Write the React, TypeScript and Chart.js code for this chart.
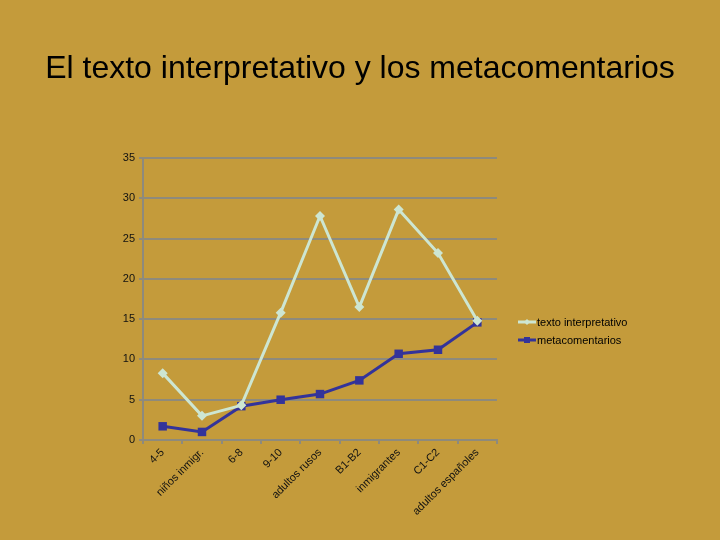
import React, { useEffect, useRef } from "react";
import { Chart, registerables } from "chart.js";

Chart.register(...registerables);

const categories = [
  "4-5",
  "niños inmigr.",
  "6-8",
  "9-10",
  "adultos rusos",
  "B1-B2",
  "inmigrantes",
  "C1-C2",
  "adultos españoles",
];
const textoInterpretativo = [8.3, 3.0, 4.3, 15.8, 27.8, 16.5, 28.6, 23.2, 14.8];
const metacomentarios = [1.7, 1.0, 4.2, 5.0, 5.7, 7.4, 10.7, 11.2, 14.6];
const yTicks = [0, 5, 10, 15, 20, 25, 30, 35];

const TITLE = "El texto interpretativo y los metacomentarios";
const BG = "#c49b3b";
const GRID = "#8e8a7c";
const LIGHT = "#cde6d2";
const DARK = "#33339a";
const FONT = "'Liberation Sans', Arial, sans-serif";

export default function App() {
  const ref = useRef<HTMLCanvasElement | null>(null);

  useEffect(() => {
    document.body.style.margin = "0";
    const canvas = ref.current;
    if (!canvas) return;

    const decor = {
      id: "decor",
      beforeDraw(chart: any) {
        const ctx = chart.ctx;
        ctx.save();
        ctx.fillStyle = BG;
        ctx.fillRect(0, 0, chart.width, chart.height);
        ctx.restore();
      },
      afterDraw(chart: any) {
        const ctx = chart.ctx;
        const area = chart.chartArea;
        ctx.save();
        ctx.fillStyle = "#000";
        ctx.font = `32px ${FONT}`;
        ctx.textAlign = "center";
        ctx.textBaseline = "middle";
        ctx.fillText(TITLE, chart.width / 2, 69);

        const items = [
          { label: "texto interpretativo", color: LIGHT, style: "diamond" },
          { label: "metacomentarios", color: DARK, style: "square" },
        ];
        const lx = area.right + 21;
        let ly = 322;
        ctx.font = `11px ${FONT}`;
        ctx.textAlign = "left";
        items.forEach((it) => {
          ctx.strokeStyle = it.color;
          ctx.lineWidth = 3;
          ctx.beginPath();
          ctx.moveTo(lx, ly);
          ctx.lineTo(lx + 18, ly);
          ctx.stroke();
          ctx.fillStyle = it.color;
          const cx = lx + 9;
          if (it.style === "diamond") {
            ctx.beginPath();
            ctx.moveTo(cx, ly - 3);
            ctx.lineTo(cx + 3, ly);
            ctx.lineTo(cx, ly + 3);
            ctx.lineTo(cx - 3, ly);
            ctx.closePath();
            ctx.fill();
          } else {
            ctx.fillRect(cx - 3, ly - 3, 6, 6);
          }
          ctx.fillStyle = "#000";
          ctx.fillText(it.label, lx + 19, ly + 1);
          ly += 18;
        });
        ctx.restore();
      },
    };

    const chart = new Chart(canvas, {
      type: "line",
      data: {
        labels: categories,
        datasets: [
          {
            label: "texto interpretativo",
            data: textoInterpretativo,
            borderColor: LIGHT,
            backgroundColor: LIGHT,
            borderWidth: 3,
            pointStyle: "rectRot",
            pointRadius: 5,
            pointBorderWidth: 0,
            tension: 0,
          },
          {
            label: "metacomentarios",
            data: metacomentarios,
            borderColor: DARK,
            backgroundColor: DARK,
            borderWidth: 3,
            pointStyle: "rect",
            pointRadius: 6,
            pointBorderWidth: 0,
            tension: 0,
          },
        ],
      },
      plugins: [decor],
      options: {
        responsive: false,
        animation: false,
        layout: { padding: { top: 158, right: 223, left: 0, bottom: 0 } },
        plugins: {
          legend: { display: false },
          title: { display: false },
          tooltip: { enabled: false },
        },
        scales: {
          x: {
            offset: true,
            afterFit(scale: any) {
              scale.height = 100;
            },
            grid: {
              offset: true,
              drawOnChartArea: false,
              drawTicks: true,
              tickLength: 4,
              color: GRID,
              lineWidth: 2,
            },
            border: { color: GRID, width: 2 },
            ticks: {
              autoSkip: false,
              maxRotation: 45,
              minRotation: 45,
              color: "#111",
              font: { family: FONT, size: 11 },
              padding: 2,
            },
          },
          y: {
            min: 0,
            max: 35,
            afterFit(scale: any) {
              scale.width = 143;
            },
            afterBuildTicks(scale: any) {
              scale.ticks = yTicks.map((v) => ({ value: v }));
            },
            grid: {
              color: GRID,
              lineWidth: 2,
              tickLength: 4,
            },
            border: { color: GRID, width: 2 },
            ticks: {
              color: "#111",
              font: { family: FONT, size: 11 },
              padding: 4,
            },
          },
        },
      },
    });

    return () => chart.destroy();
  }, []);

  return (
    <div style={{ width: 720, height: 540 }}>
      <canvas ref={ref} width={720} height={540} style={{ display: "block" }} />
    </div>
  );
}
